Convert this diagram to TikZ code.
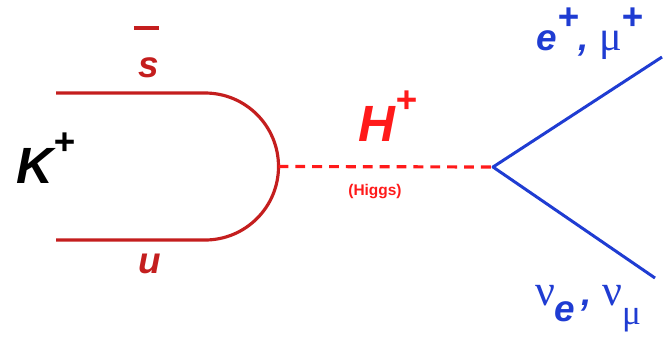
\documentclass[tikz,border=0pt]{standalone}
\usepackage{fontspec}
\setmainfont{Liberation Sans}
\newfontfamily\greek{Liberation Serif}
\usetikzlibrary{calc}
\definecolor{quark}{HTML}{C41E1E}
\definecolor{higgs}{HTML}{FF1A1A}
\definecolor{lepton}{HTML}{1F3CD2}
\newcommand{\chg}[1]{\raisebox{0.55em}{\fontsize{10.5}{10.5}\selectfont\bfseries#1}}

\begin{document}
\begin{tikzpicture}[line cap=butt,line join=round,
    qline/.style={quark,line width=0.9pt},
    hline/.style={higgs,line width=0.9pt,dash pattern=on 2.8pt off 2pt},
    lline/.style={lepton,line width=0.85pt},
    lab/.style={inner sep=0pt,font=\bfseries\itshape}]
  \useasboundingbox (0,0) rectangle (6.67,3.37);
  \def\rad{0.735}

  \coordinate (sL) at (0.56,2.44);
  \coordinate (sR) at (2.05,2.44);
  \coordinate (uL) at (0.56,0.97);
  \coordinate (uR) at (2.05,0.97);
  \coordinate (hvtx) at ($(sR)!0.5!(uR)+(\rad,0)$);
  \coordinate (lvtx) at (4.93,1.70);
  \coordinate (lup) at (6.62,2.80);
  \coordinate (ldn) at (6.55,0.59);

  % spectator quark line closing into the annihilation point
  \draw[qline] (sL) -- (sR) arc[start angle=90,end angle=-90,radius=\rad cm] -- (uL);
  \draw[hline] (hvtx) -- (lvtx);
  \draw[lline] (lup) -- (lvtx) -- (ldn);

  \node[lab,text=black,font=\fontsize{14.5}{14.5}\selectfont\bfseries\itshape,anchor=base]
    (kaon) at (0.46,1.54) {K\chg{+}};
  \node[lab,text=quark,font=\fontsize{10.5}{10.5}\selectfont\bfseries\itshape,anchor=base]
    (sbar) at (1.49,2.60) {s\llap{\rule[13.5pt]{7pt}{1.1pt}\hspace{0.2pt}}};
  \node[lab,text=quark,font=\fontsize{10.5}{10.5}\selectfont\bfseries\itshape,anchor=base]
    (uq) at (1.50,0.64) {u};
  \node[lab,text=higgs,font=\fontsize{14.5}{14.5}\selectfont\bfseries\itshape,anchor=base]
    (hlab) at (3.88,1.96) {H\chg{+}};
  \node[inner sep=0pt,text=higgs,font=\fontsize{4.4}{4.4}\selectfont\bfseries,anchor=base]
    (hname) at (3.75,1.42) {(Higgs)};
  \node[lab,text=lepton,font=\fontsize{10.5}{10.5}\selectfont\bfseries\itshape,anchor=base]
    (lplus) at (5.90,2.87) {e\chg{+}, {\greek\upshape\mdseries\fontsize{12}{12}\selectfont μ}\chg{+}};
  \node[lab,text=lepton,font=\fontsize{10.5}{10.5}\selectfont\bfseries\itshape,anchor=base]
    (lnu) at (5.88,0.32) {{\greek\upshape\mdseries\fontsize{12.5}{12.5}\selectfont ν}\raisebox{-0.45em}{e}\,,
      {\greek\upshape\mdseries\fontsize{12.5}{12.5}\selectfont ν\raisebox{-0.45em}{\fontsize{10}{10}\selectfont μ}}};
\end{tikzpicture}
\end{document}
